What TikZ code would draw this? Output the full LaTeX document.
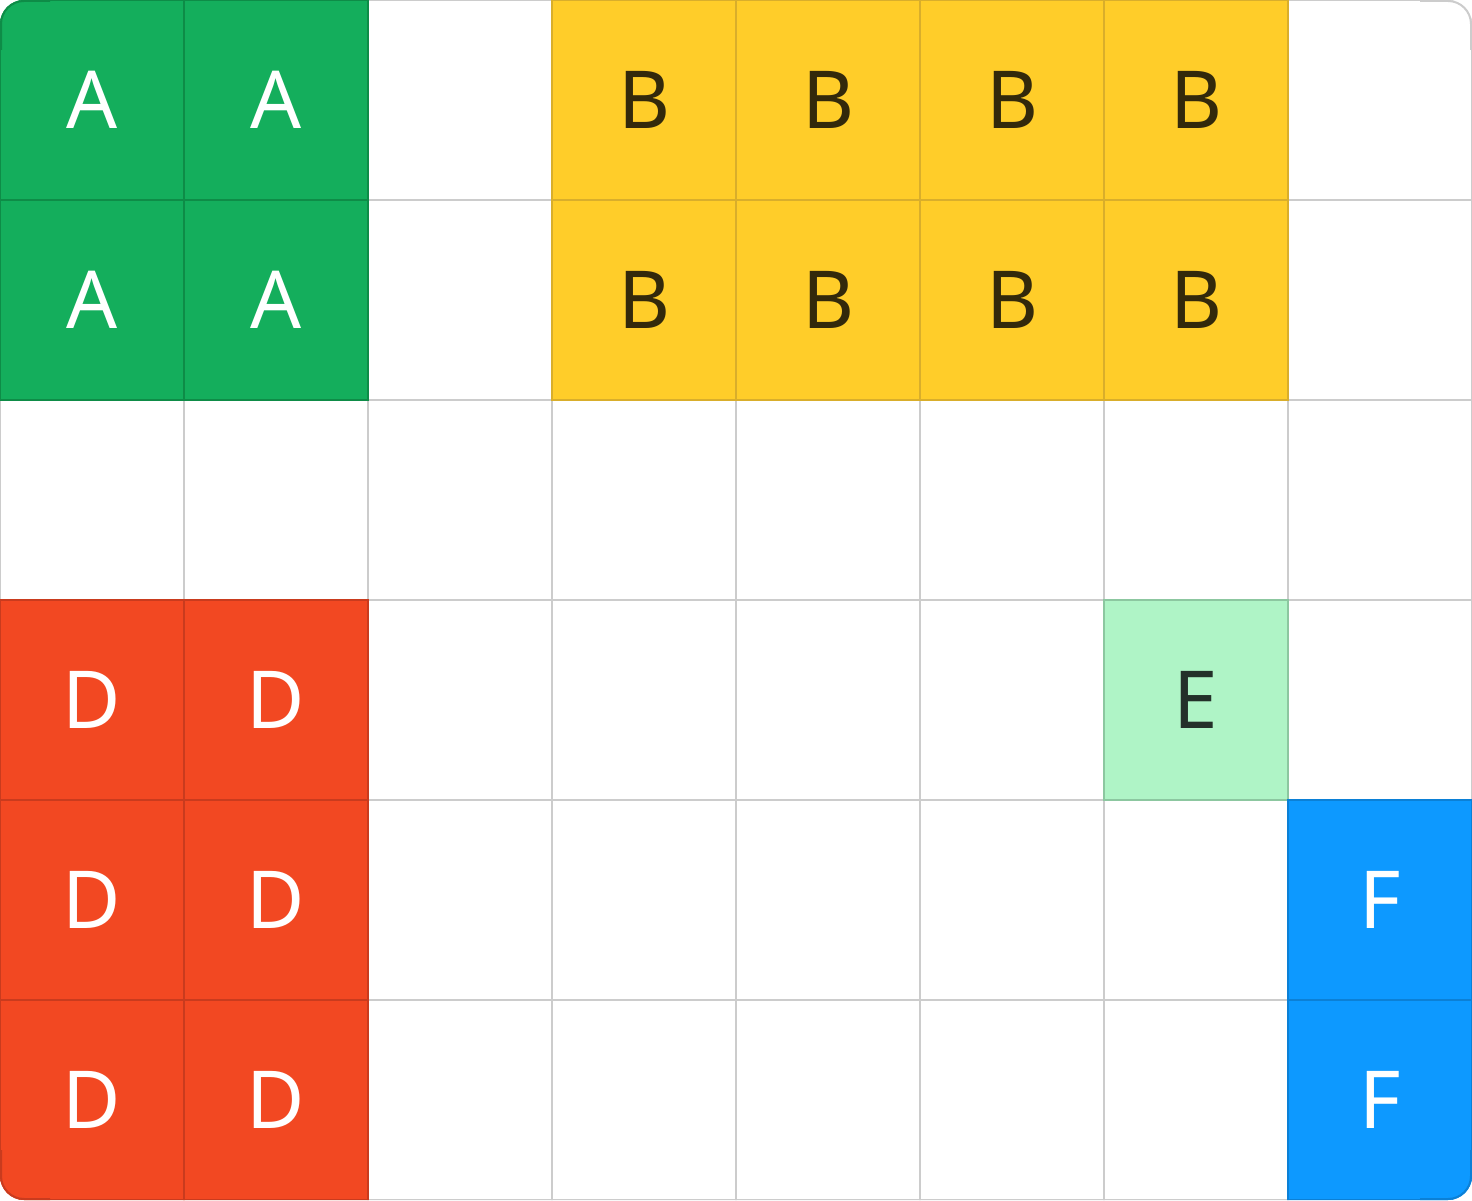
\documentclass[tikz,border=0pt]{standalone}
\usepackage{fontspec}
\setmainfont{Noto Sans}
\definecolor{gridgray}{HTML}{CCCCCC}
\definecolor{Afill}{HTML}{14AE5C}\definecolor{Aline}{HTML}{0E8C47}
\definecolor{Bfill}{HTML}{FFCD29}\definecolor{Bline}{HTML}{D9AE2B}\definecolor{Btext}{HTML}{33290B}
\definecolor{Dfill}{HTML}{F24822}\definecolor{Dline}{HTML}{C93B1E}
\definecolor{Efill}{HTML}{AFF4C6}\definecolor{Eline}{HTML}{8CC7A0}\definecolor{Etext}{HTML}{24302A}
\definecolor{Ffill}{HTML}{0D99FF}\definecolor{Fline}{HTML}{0B80D6}
\begin{document}
\begin{tikzpicture}[x=1pt,y=1pt,
  cell/.style={rectangle, minimum width=184pt, minimum height=200pt, inner sep=0pt, outer sep=0pt,
    line width=2pt, draw=gridgray, fill=white, font=\fontsize{80}{96}\selectfont},
  cellA/.style={cell, fill=Afill, draw=Aline, text=white},
  cellB/.style={cell, fill=Bfill, draw=Bline, text=Btext},
  cellD/.style={cell, fill=Dfill, draw=Dline, text=white},
  cellE/.style={cell, fill=Efill, draw=Eline, text=Etext},
  cellF/.style={cell, fill=Ffill, draw=Fline, text=white},
  edge/.style={line width=2pt}]
\useasboundingbox (0,0) rectangle (1472,1200);
\begin{scope}
  \clip[rounded corners=24pt] (0,0) rectangle (1472,1200);
  \fill[white] (0,0) rectangle (1472,1200);
  \foreach \r/\c in {0/2,0/7,1/2,1/7,2/0,2/1,2/2,2/3,2/4,2/5,2/6,2/7,3/2,3/3,3/4,3/5,3/7,4/2,4/3,4/4,4/5,4/6,5/2,5/3,5/4,5/5,5/6}
    \node[cell] (w-\r-\c) at ({92+184*\c},{1100-200*\r}) {};
  \foreach \r/\c in {0/0,0/1,1/0,1/1}
    \node[cellA] (a-\r-\c) at ({92+184*\c},{1100-200*\r}) {A};
  \foreach \r/\c in {0/3,0/4,0/5,0/6,1/3,1/4,1/5,1/6}
    \node[cellB] (b-\r-\c) at ({92+184*\c},{1100-200*\r}) {B};
  \foreach \r/\c in {3/0,3/1,4/0,4/1,5/0,5/1}
    \node[cellD] (d-\r-\c) at ({92+184*\c},{1100-200*\r}) {D};
  \node[cellE] (e-3-6) at ({92+184*6},{1100-200*3}) {E};
  \foreach \r/\c in {4/7,5/7}
    \node[cellF] (f-\r-\c) at ({92+184*\c},{1100-200*\r}) {F};
\end{scope}
\draw[edge, Aline] (1,1150) -- (1,1176) arc[start angle=180, end angle=90, radius=23] -- (50,1199);
\draw[edge, gridgray] (1471,1150) -- (1471,1176) arc[start angle=0, end angle=90, radius=23] -- (1420,1199);
\draw[edge, Dline] (1,50) -- (1,24) arc[start angle=180, end angle=270, radius=23] -- (50,1);
\draw[edge, Fline] (1471,50) -- (1471,24) arc[start angle=0, end angle=-90, radius=23] -- (1420,1);
\end{tikzpicture}
\end{document}
